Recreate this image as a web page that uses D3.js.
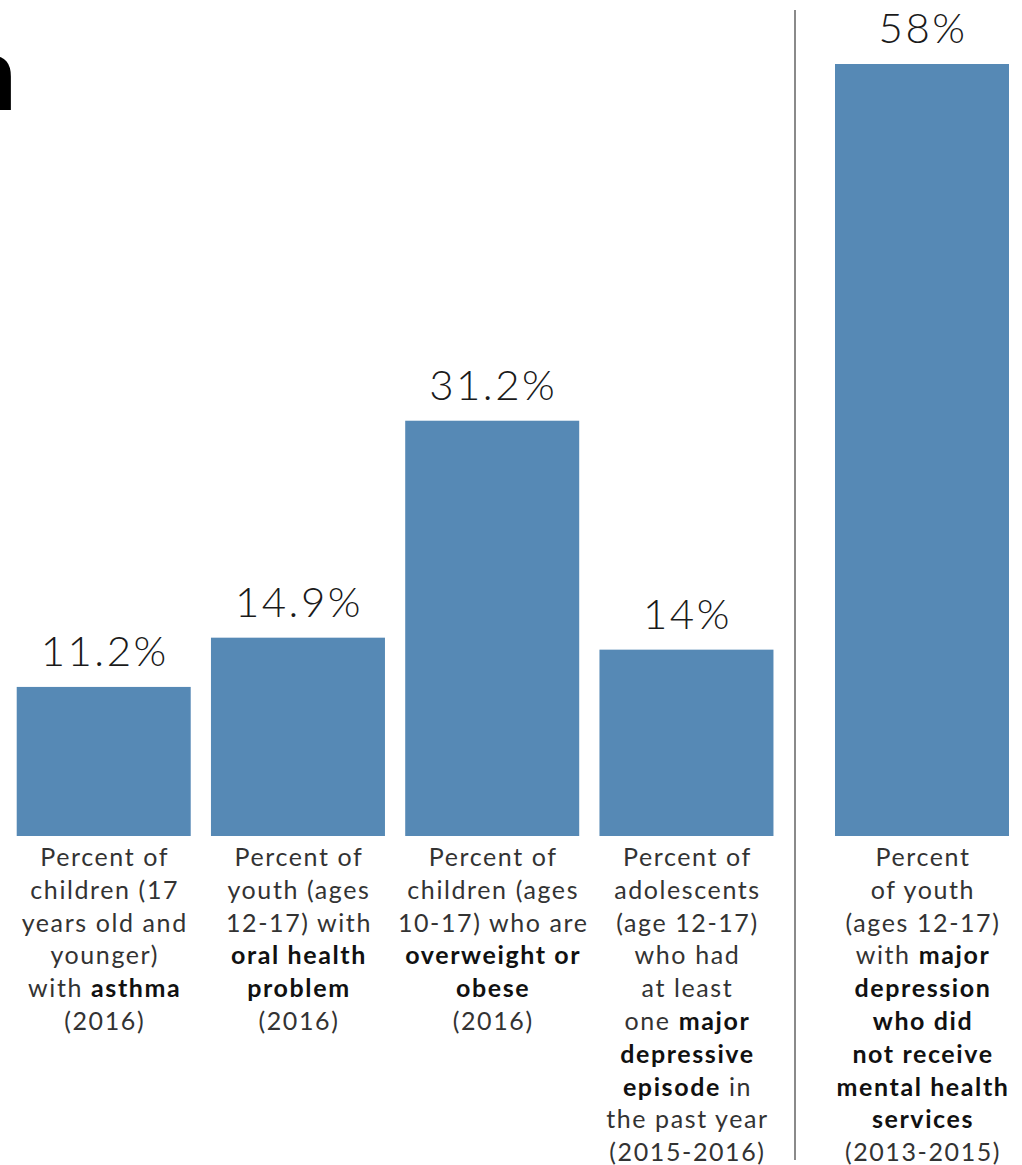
<!DOCTYPE html>
<html><head><meta charset="utf-8">
<script src="https://cdn.jsdelivr.net/npm/d3@7"></script>
<style>body{margin:0;background:#fff;overflow:hidden}svg{display:block}</style>
</head><body>
<svg id="c" width="1022" height="1165"></svg>
<script>
const categories = ["asthma","oral","overweight","mde","nomhs"];
const values = [11.2, 14.9, 31.2, 14, 58];
const valueLabels = ["11.2%","14.9%","31.2%","14%","58%"];
// each caption: list of lines, each line: list of [text, bold]
const captions = [
  [[["Percent of",0]],[["children (17",0]],[["years old and",0]],[["younger)",0]],[["with ",0],["asthma",1]],[["(2016)",0]]],
  [[["Percent of",0]],[["youth (ages",0]],[["12-17) with",0]],[["oral health",1]],[["problem",1]],[["(2016)",0]]],
  [[["Percent of",0]],[["children (ages",0]],[["10-17) who are",0]],[["overweight or",1]],[["obese",1]],[["(2016)",0]]],
  [[["Percent of",0]],[["adolescents",0]],[["(age 12-17)",0]],[["who had",0]],[["at least",0]],[["one ",0],["major",1]],[["depressive",1]],[["episode",1],[" in",0]],[["the past year",0]],[["(2015-2016)",0]]],
  [[["Percent",0]],[["of youth",0]],[["(ages 12-17)",0]],[["with ",0],["major",1]],[["depression",1]],[["who did",1]],[["not receive",1]],[["mental health",1]],[["services",1]],[["(2013-2015)",0]]]
];

const svg = d3.select("#c");
const barColor = "#5689b5";
const font = "Lato, 'Open Sans', sans-serif";

const xLeft = d3.scaleBand().domain(categories.slice(0,4)).range([7, 784]).paddingInner(0.1).paddingOuter(0.05);
const xRight = d3.scaleBand().domain(categories.slice(4)).range([835, 1009]).padding(0);
const xPos = c => categories.indexOf(c) < 4 ? xLeft(c) : xRight(c);
const bw = 174;
const y = d3.scaleLinear().domain([0, 58]).range([836, 64]);

// cropped title glyph (cut at the left edge, as in the reference)
svg.append("text").attr("x", 17).attr("y", 110).attr("text-anchor","end")
  .attr("font-family","'Liberation Sans', Arial, sans-serif").attr("font-weight","bold")
  .attr("font-size",100).attr("fill","#000").text("n");

// divider
svg.append("line").attr("x1",795).attr("x2",795).attr("y1",10).attr("y2",1160)
  .attr("stroke","#8a8a8a").attr("stroke-width",2);

const data = categories.map((c,i)=>({c, v: values[i], label: valueLabels[i], cap: captions[i]}));

svg.selectAll("rect.bar").data(data).join("rect").attr("class","bar")
  .attr("x", d=>xPos(d.c)).attr("width", bw)
  .attr("y", d=>y(d.v)).attr("height", d=>y(0)-y(d.v))
  .attr("fill", barColor);

svg.selectAll("text.val").data(data).join("text").attr("class","val")
  .attr("x", d=>xPos(d.c)+bw/2 + 1).attr("y", d=>y(d.v)-21)
  .attr("text-anchor","middle").attr("font-family",font).attr("font-weight",300)
  .attr("font-size",42).attr("letter-spacing",2.5).attr("fill","#1a1a1a").text(d=>d.label);

const capG = svg.selectAll("g.cap").data(data).join("g").attr("class","cap");
capG.each(function(d){
  const g = d3.select(this);
  const t = g.append("text").attr("text-anchor","middle").attr("font-family",font)
    .attr("font-size",25).attr("letter-spacing",1.6).attr("fill","#333");
  d.cap.forEach((line, li)=>{
    const first = t.append("tspan").attr("x", xPos(d.c)+bw/2 + 1).attr("y", 866 + li*32.8);
    line.forEach((seg, si)=>{
      const ts = si===0 ? first : t.append("tspan");
      ts.text(seg[0]).attr("font-weight", seg[1] ? "bold" : "normal")
        .attr("fill", seg[1] ? "#111" : "#333");
    });
  });
});
</script>
</body></html>
